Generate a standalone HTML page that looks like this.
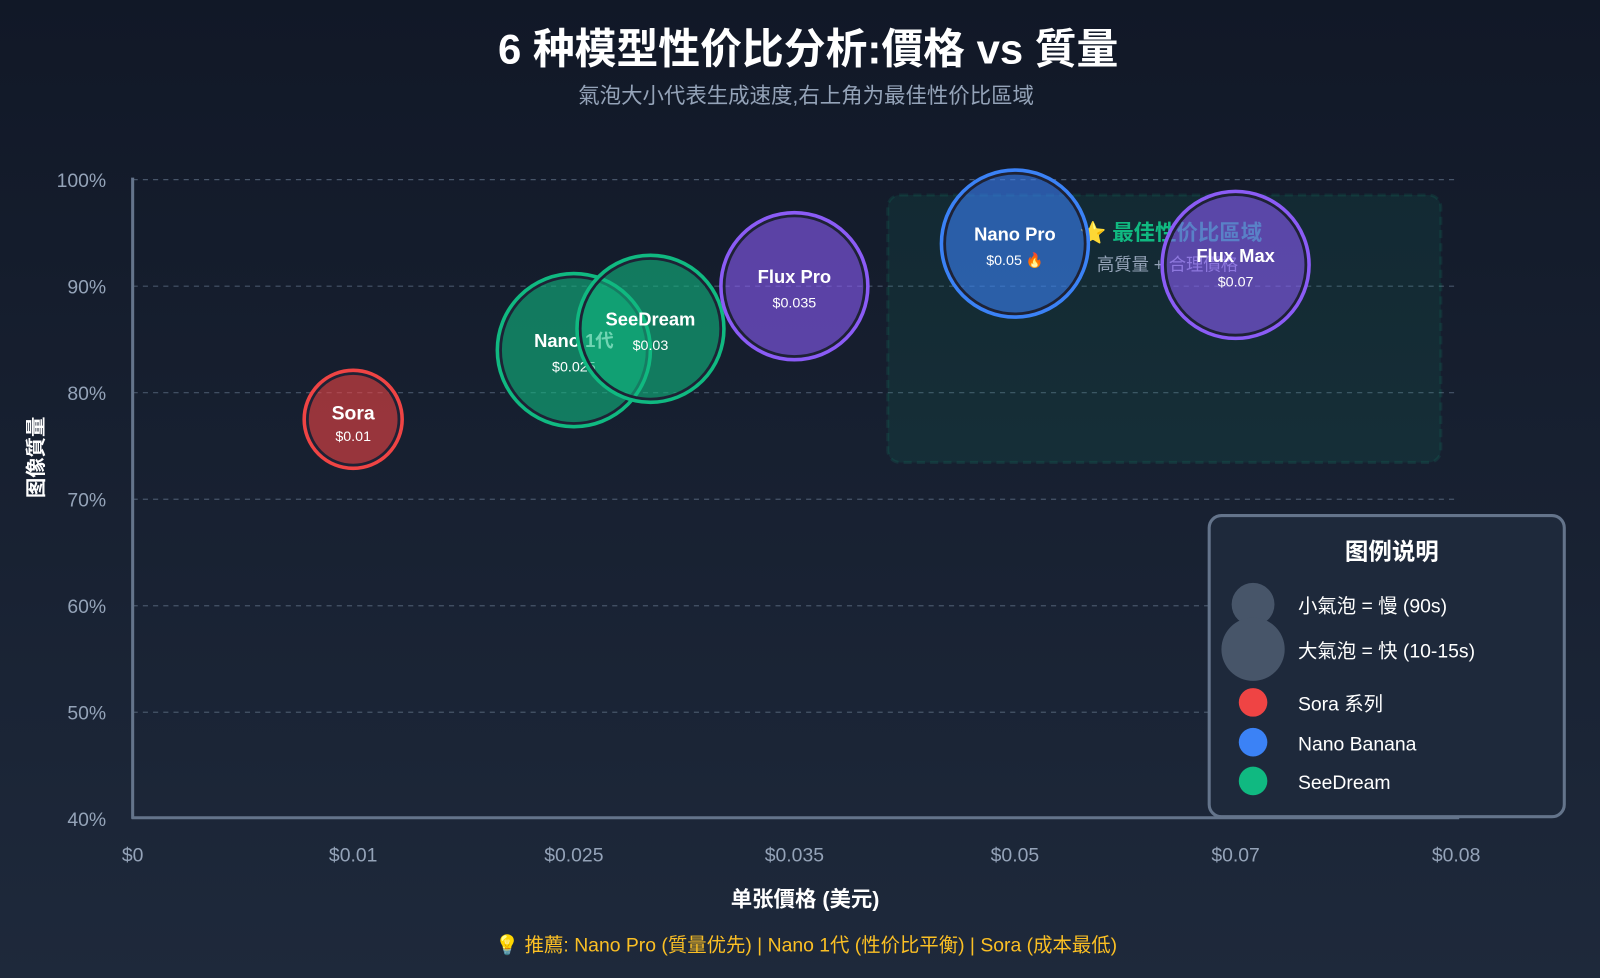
<!DOCTYPE html>
<html><head><meta charset="utf-8"><style>
html,body{margin:0;padding:0;width:1600px;height:978px;overflow:hidden;background:linear-gradient(180deg,#111827 0%,#1e293b 100%);}
svg{display:block;font-family:"Liberation Sans","Noto Sans CJK SC",sans-serif;}
</style></head><body>
<svg id="chart" width="1600" height="978" viewBox="0 0 1568 958" preserveAspectRatio="none">
<text x="792" y="62" text-anchor="middle" fill="#fff" font-size="41" font-weight="bold">6 种模型性价比分析:價格 vs 質量</text>
<text x="790" y="101" text-anchor="middle" fill="#94a3b8" font-size="21">氣泡大小代表生成速度,右上角为最佳性价比區域</text>
<g id="grid"></g>
<rect x="870" y="191" width="542" height="262" rx="12" fill="#10b981" fill-opacity="0.09" stroke="#10b981" stroke-opacity="0.12" stroke-width="3" stroke-dasharray="8 5"/>
<text x="1058" y="235" fill="#10b981" font-size="21" font-weight="bold">⭐ 最佳性价比區域</text>
<text x="1075" y="265" fill="#94a3b8" font-size="17">高質量 + 合理價格</text>
<g id="bubbles"></g>
<line x1="130" y1="174" x2="130" y2="802" stroke="#64748b" stroke-width="3"/>
<line x1="129" y1="801" x2="1430" y2="801" stroke="#64748b" stroke-width="3"/>
<text transform="translate(42,448) rotate(-90)" text-anchor="middle" fill="#fff" font-size="20" font-weight="bold">图像質量</text>
<text x="789" y="888" text-anchor="middle" fill="#fff" font-size="21" font-weight="bold">单张價格 (美元)</text>
<text x="790" y="932" text-anchor="middle" fill="#fbbf24" font-size="19">💡 推薦: Nano Pro (質量优先) | Nano 1代 (性价比平衡) | Sora (成本最低)</text>
<g>
<rect x="1185" y="505" width="348" height="295" rx="12" fill="#1e293b" stroke="#64748b" stroke-width="3"/>
<text x="1364" y="548" text-anchor="middle" fill="#fff" font-size="23" font-weight="bold">图例说明</text>
<circle cx="1228" cy="592" r="21" fill="#475569"/>
<text x="1272" y="600" fill="#fff" font-size="19">小氣泡 = 慢 (90s)</text>
<circle cx="1228" cy="636" r="31" fill="#475569"/>
<text x="1272" y="644" fill="#fff" font-size="19">大氣泡 = 快 (10-15s)</text>
<circle cx="1228" cy="688" r="14" fill="#ef4444"/>
<text x="1272" y="696" fill="#fff" font-size="19">Sora 系列</text>
<circle cx="1228" cy="727" r="14" fill="#3b82f6"/>
<text x="1272" y="735" fill="#fff" font-size="19">Nano Banana</text>
<circle cx="1228" cy="765" r="14" fill="#10b981"/>
<text x="1272" y="773" fill="#fff" font-size="19">SeeDream</text>
</g>
</svg>
<script>
const NS="http://www.w3.org/2000/svg";
const names=["Sora","Nano 1代","SeeDream","Flux Pro","Nano Pro","Flux Max"];
const priceLabels=["$0.01","$0.025","$0.03","$0.035","$0.05 🔥","$0.07"];
const xValues=[0.01333,0.02667,0.0313,0.04,0.05333,0.06667];
const quality=[77.5,84,86,90,94,92];
const sizes=[48,75,72,72,72,72];
const colors=["#ef4444","#10b981","#10b981","#8b5cf6","#3b82f6","#8b5cf6"];
const xTickValues=[0,0.01333,0.02667,0.04,0.05333,0.06667,0.08];
const xTickLabels=["$0","$0.01","$0.025","$0.035","$0.05","$0.07","$0.08"];
const yTicks=[40,50,60,70,80,90,100];
const X0=130,X1=1427,Y0=802,Y1=176;
function xs(v){return X0+(v-0)/(0.08)*(X1-X0);}
function ys(v){return Y0-(v-40)/60*(Y0-Y1);}
function mk(tag,attrs,parent){const e=document.createElementNS(NS,tag);for(const k in attrs)e.setAttribute(k,attrs[k]);parent.appendChild(e);return e;}
const grid=document.getElementById('grid');
yTicks.forEach(t=>{
  if(t>40){const l=mk('line',{x1:130,x2:1430,y1:ys(t),y2:ys(t),stroke:'#475569','stroke-width':1.2,'stroke-dasharray':'5 5'},grid);
  
  }
  const tx=mk('text',{x:104,y:ys(t)+7,'text-anchor':'end',fill:'#94a3b8','font-size':19},grid);tx.textContent=t+'%';
  
  
});
xTickValues.forEach((v,i)=>{
  const tx=mk('text',{x:xs(v),y:844,'text-anchor':'middle',fill:'#94a3b8','font-size':19},grid);tx.textContent=xTickLabels[i];
  
  
});
const bg=document.getElementById('bubbles');
names.forEach((n,i)=>{
  const g=mk('g',{},bg);
  
  
  const cx=xs(xValues[i]),cy=ys(quality[i]),r=sizes[i];
  const big=r<60;
  const t1=mk('text',{x:cx,y:cy+(big?0:-3),'text-anchor':'middle',fill:'#fff','font-size':big?19:18,'font-weight':'bold'},g);t1.textContent=n;
  const t2=mk('text',{x:cx,y:cy+21,'text-anchor':'middle',fill:'#fff','font-size':14},g);t2.textContent=priceLabels[i];
  mk('circle',{cx:cx,cy:cy,r:r-3,fill:colors[i],'fill-opacity':0.6,stroke:'#1e2235','stroke-width':3},g);
  mk('circle',{cx:cx,cy:cy,r:r,fill:'none',stroke:colors[i],'stroke-width':3.5},g);
  g.appendChild(t1);g.appendChild(t2);
});
</script>
</body></html>
